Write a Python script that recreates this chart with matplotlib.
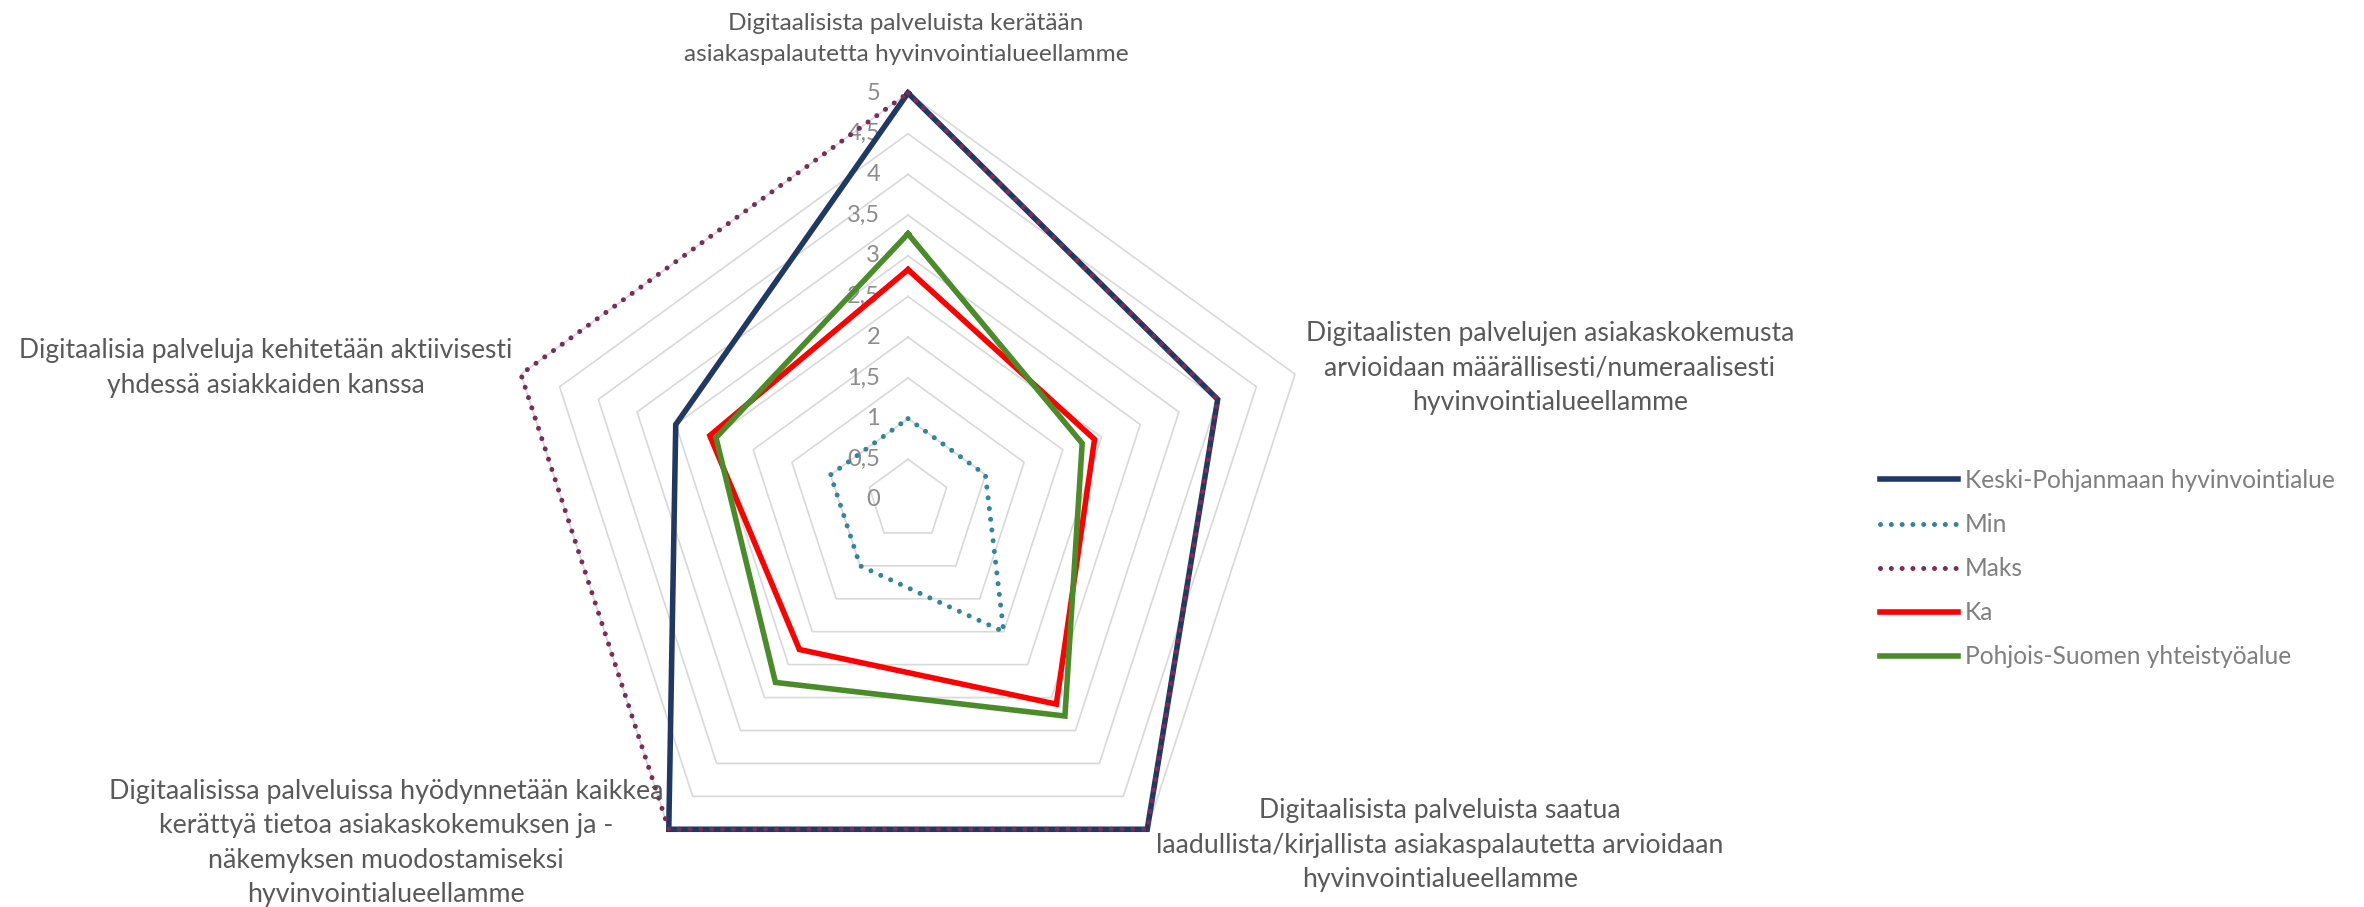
import numpy as np
import matplotlib
matplotlib.use("Agg")
import matplotlib.pyplot as plt

plt.rcParams['font.family'] = ['Lato', 'DejaVu Sans']

# Statements (axes of the radar), clockwise from the top
categories = [
    "Digitaalisista palveluista kerätään\nasiakaspalautetta hyvinvointialueellamme",
    "Digitaalisten palvelujen asiakaskokemusta\narvioidaan määrällisesti/numeraalisesti\nhyvinvointialueellamme",
    "Digitaalisista palveluista saatua\nlaadullista/kirjallista asiakaspalautetta arvioidaan\nhyvinvointialueellamme",
    "Digitaalisissa palveluissa hyödynnetään kaikkea\nkerättyä tietoa asiakaskokemuksen ja -\nnäkemyksen muodostamiseksi\nhyvinvointialueellamme",
    "Digitaalisia palveluja kehitetään aktiivisesti\nyhdessä asiakkaiden kanssa",
]

keski_pohjanmaa = [5.0, 4.0, 5.0, 5.0, 3.0]
minimi = [1.0, 1.0, 2.0, 1.0, 1.0]
maksimi = [5.0, 4.0, 5.0, 5.0, 5.0]
keskiarvo = [2.83, 2.41, 3.1, 2.27, 2.56]
pohjois_suomi = [3.27, 2.25, 3.28, 2.77, 2.48]

series_names = ["Keski-Pohjanmaan hyvinvointialue", "Min", "Maks", "Ka",
                "Pohjois-Suomen yhteistyöalue"]
series_values = [keski_pohjanmaa, minimi, maksimi, keskiarvo, pohjois_suomi]

tick_values = [0, 0.5, 1, 1.5, 2, 2.5, 3, 3.5, 4, 4.5, 5]
tick_labels = ["0", "0,5", "1", "1,5", "2", "2,5", "3", "3,5", "4", "4,5", "5"]

# Figure geometry (pixels)
W, H, DPI = 2364, 907, 100
CX, CY = 908, 500          # radar centre, measured from top-left
RMAX_PX = 407              # radius of the value 5
VMAX = 5.0
unit = RMAX_PX / VMAX      # pixels per value unit

fig = plt.figure(figsize=(W / DPI, H / DPI), dpi=DPI)
ax = fig.add_axes([0, 0, 1, 1])
ax.set_xlim(-CX / unit, (W - CX) / unit)
ax.set_ylim(-(H - CY) / unit, CY / unit)
ax.set_aspect('equal')
ax.axis('off')

n = len(categories)
angles = np.pi / 2 - 2 * np.pi * np.arange(n) / n


def to_xy(vals):
    vals = np.asarray(vals, dtype=float)
    x = vals * np.cos(angles)
    y = vals * np.sin(angles)
    return np.append(x, x[0]), np.append(y, y[0])


# Pentagonal grid
for v in tick_values[1:]:
    gx, gy = to_xy([v] * n)
    ax.plot(gx, gy, color='#d9d9d9', lw=1.2, zorder=1)

# Value labels along the top axis
for v, lab in zip(tick_values, tick_labels):
    ax.text(-28 / unit, v, lab, ha='right', va='center', fontsize=17,
            color='#8c8c8c', zorder=2)

dots = (0, (0.01, 2.15))
styles = [
    dict(color='#1f3864', lw=4.0, ls='-'),
    dict(color='#31869b', lw=3.6, ls=dots, dash_capstyle='round'),
    dict(color='#7a2e55', lw=3.6, ls=dots, dash_capstyle='round'),
    dict(color='#ff0000', lw=4.0, ls='-'),
    dict(color='#4a8c2a', lw=4.0, ls='-'),
]

handles = []
for i, (name, vals, st) in enumerate(zip(series_names, series_values, styles)):
    sx, sy = to_xy(vals)
    line, = ax.plot(sx, sy, label=name, zorder=3 + i, solid_joinstyle='miter', **st)
    handles.append(line)

# Category labels: centre position (pixels) and font size
label_pos = [
    (906, 39, 17.6),
    (1550, 368, 19.2),
    (1440, 845, 19.2),
    (386, 843, 19.3),
    (266, 368, 19.0),
]
for text, (px, py, fs) in zip(categories, label_pos):
    ax.text((px - CX) / unit, (CY - py) / unit, text, ha='center', va='center',
            multialignment='center', fontsize=fs, color='#595959',
            linespacing=35.5 / (0.895 * fs * DPI / 72), zorder=10)


def make_legend(fs):
    fs_px = fs * DPI / 72
    lg = ax.legend(handles=handles, loc='upper left',
                   bbox_to_anchor=(1880 / W, 1 - 469 / H),
                   bbox_transform=fig.transFigure, frameon=False, fontsize=fs,
                   handlelength=78 / fs_px, handletextpad=7 / fs_px,
                   labelspacing=0.86, borderpad=0, borderaxespad=0)
    for t in lg.get_texts():
        t.set_color('#7f7f7f')
    return lg


# Size the legend so it spans from x=1880 to x=2333 px
leg = make_legend(18)
renderer = fig.canvas.get_renderer()
w = leg.get_window_extent(renderer).width
fs_fit = 18 * (2333 - 1880 - 78) / (w - 78)
leg.remove()
leg = make_legend(fs_fit)

fig.savefig('out.png', dpi=DPI)
